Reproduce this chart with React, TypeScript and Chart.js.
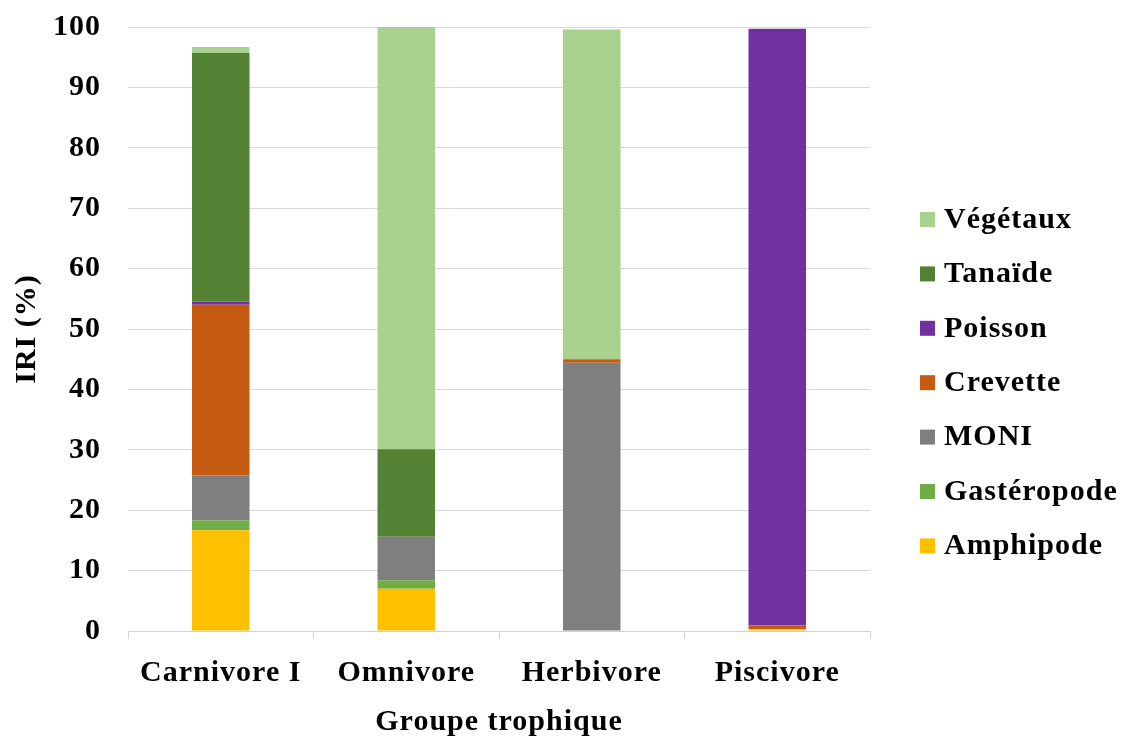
import React, { useEffect, useRef } from "react";
import { Chart, registerables } from "chart.js";

Chart.register(...registerables);

const categories = ["Carnivore I", "Omnivore", "Herbivore", "Piscivore"];
const amphipode = [16.7, 7.0, 0, 0.3];
const gasteropode = [1.6, 1.4, 0, 0];
const moni = [7.5, 7.2, 44.4, 0];
const crevette = [28.2, 0, 0.6, 0.6];
const poisson = [0.5, 0, 0, 98.8];
const tanaide = [41.2, 14.5, 0, 0];
const vegetaux = [1.0, 69.9, 54.6, 0];
const yTicks = [0, 10, 20, 30, 40, 50, 60, 70, 80, 90, 100];

const seriesNames = ["Amphipode", "Gastéropode", "MONI", "Crevette", "Poisson", "Tanaïde", "Végétaux"];
const seriesValues = [amphipode, gasteropode, moni, crevette, poisson, tanaide, vegetaux];
const seriesColors = ["#FFC000", "#70AD47", "#7F7F7F", "#C55A11", "#7030A0", "#548235", "#A9D18E"];

const FONT = "'Liberation Serif', 'Times New Roman', serif";
const FS = 30;

const spacingPlugin = {
  id: "letterSpacing",
  beforeInit(chart: any) {
    (chart.ctx as any).letterSpacing = "1px";
  },
  beforeLayout(chart: any) {
    (chart.ctx as any).letterSpacing = "1px";
  },
  beforeDraw(chart: any) {
    (chart.ctx as any).letterSpacing = "1px";
  },
};

const legendPlugin = {
  id: "customLegend",
  afterDraw(chart: any) {
    const ctx = chart.ctx;
    const area = chart.chartArea;
    const ds = chart.data.datasets.slice().reverse();
    const x0 = area.right + 50;
    const y0 = 219;
    const step = 54.4;
    ctx.save();
    (ctx as any).letterSpacing = "1px";
    ctx.font = `bold ${FS}px ${FONT}`;
    ctx.textBaseline = "middle";
    ctx.textAlign = "left";
    ds.forEach((d: any, i: number) => {
      const cy = y0 + i * step;
      ctx.fillStyle = d.backgroundColor;
      ctx.fillRect(x0, cy - 7, 15, 15);
      ctx.fillStyle = "#000";
      ctx.fillText(d.label, x0 + 24, cy + 1);
    });
    ctx.restore();
  },
};

export default function App() {
  const ref = useRef<HTMLCanvasElement>(null);
  useEffect(() => {
    if (!ref.current) return;
    const chart = new Chart(ref.current, {
      type: "bar",
      data: {
        labels: categories,
        datasets: seriesNames.map((name, i) => ({
          label: name,
          data: seriesValues[i],
          backgroundColor: seriesColors[i],
          borderWidth: 0,
          barPercentage: 0.31,
          categoryPercentage: 1,
        })),
      },
      options: {
        animation: false,
        responsive: true,
        maintainAspectRatio: false,
        layout: { padding: { left: 0, right: 251, top: 27, bottom: 0 } },
        plugins: {
          legend: { display: false },
          tooltip: { enabled: false },
        },
        scales: {
          x: {
            stacked: true,
            grid: {
              offset: true,
              drawOnChartArea: false,
              drawTicks: true,
              tickLength: 8,
              color: "#d0d0d0",
            },
            border: { display: true, color: "#d0d0d0", width: 1 },
            ticks: {
              color: "#000",
              padding: 16,
              font: { family: FONT, size: FS, weight: "bold" },
              maxRotation: 0,
            },
            title: {
              display: true,
              text: "Groupe trophique",
              color: "#000",
              font: { family: FONT, size: FS, weight: "bold", lineHeight: 1 },
              padding: { top: 0, bottom: 0 },
            },
            afterFit(scale: any) {
              scale.height = 106;
            },
          },
          y: {
            stacked: true,
            min: 0,
            max: 100,
            afterBuildTicks(scale: any) {
              scale.ticks = yTicks.map((v) => ({ value: v }));
            },
            grid: { color: "#d9d9d9", drawTicks: false },
            border: { display: false },
            ticks: {
              color: "#000",
              padding: 27,
              font: { family: FONT, size: FS, weight: "bold" },
            },
            title: {
              display: true,
              text: "IRI (%)",
              color: "#000",
              font: { family: FONT, size: FS, weight: "bold", lineHeight: 1 },
              padding: { top: 12, bottom: 0 },
            },
            afterFit(scale: any) {
              scale.width = 128;
              scale.paddingTop = 0;
              scale.paddingBottom = 0;
            },
          },
        },
      },
      plugins: [spacingPlugin, legendPlugin],
    });
    return () => chart.destroy();
  }, []);
  return (
    <div style={{ position: "fixed", left: 0, top: 0, width: 1121, height: 737, background: "#fff" }}>
      <canvas ref={ref} />
    </div>
  );
}
